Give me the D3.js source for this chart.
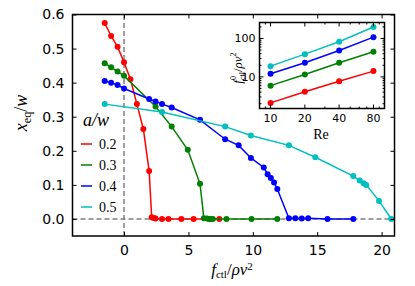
<html>
<head>
<script src="https://d3js.org/d3.v7.min.js"></script>
<style>
  body { margin: 0; background: #fff; }
  .tick text { font-family: "DejaVu Sans", sans-serif; }
  .math { font-family: "Liberation Serif", "DejaVu Serif", serif; }
</style>
</head>
<body>
<svg id="chart" width="415" height="286"></svg>
<script>
// main plot data
const seriesNames = ["0.2", "0.3", "0.4", "0.5"];
const seriesColors = ["#ff0000", "#008000", "#0000ff", "#00bfbf"];

const redX = [-1.5, -1, -0.5, 0, 0.5, 1, 1.5, 1.95, 2.15, 2.3, 2.45, 2.95, 3.45, 4.45, 5.4, 7.4];
const redY = [0.575, 0.537, 0.505, 0.46, 0.41, 0.337, 0.264, 0.141, 0.005, 0.003, 0.001, 0, 0, 0, 0, 0];
const greenX = [-1.5, -1, -0.5, 0, 2.45, 3.7, 4.95, 5.9, 6.2, 6.45, 6.6, 6.7, 6.9, 7.95, 9.9, 11.9];
const greenY = [0.457, 0.445, 0.433, 0.42, 0.33, 0.271, 0.203, 0.103, 0.002, 0.001, 0, 0, 0, 0, 0, 0];
const blueX = [-1.5, -1, -0.5, 0, 1.95, 2.45, 2.95, 3.7, 5.9, 7.85, 8.9, 9.85, 10.85, 11.15, 11.4, 11.65, 11.9, 12.8, 13.3, 13.8, 14.3, 15.8, 17.8];
const blueY = [0.405, 0.40, 0.393, 0.383, 0.352, 0.345, 0.337, 0.327, 0.291, 0.234, 0.216, 0.179, 0.151, 0.131, 0.12, 0.107, 0.088, 0.002, 0.002, 0.001, 0.002, 0, 0];
const cyanX = [-1.5, 2.95, 7.85, 9.85, 12.8, 14.85, 17.8, 18.3, 18.6, 18.8, 19.8, 20.75];
const cyanY = [0.337, 0.314, 0.271, 0.245, 0.216, 0.181, 0.126, 0.113, 0.105, 0.10, 0.053, 0];

const xTicks = [0, 5, 10, 15, 20];
const yTicks = [0.0, 0.1, 0.2, 0.3, 0.4, 0.5, 0.6];

// inset data
const reValues = [10, 20, 40, 80];
const redF0 = [2.1, 4.1, 7.7, 14.1];
const greenF0 = [5.9, 11.5, 23.2, 45];
const blueF0 = [12, 23.2, 48.6, 108];
const cyanF0 = [19, 39, 82, 199];
const insetXTicks = [10, 20, 40, 80];
const insetYTicks = [10, 100];

const svg = d3.select("#chart");
svg.append("rect").attr("width", 415).attr("height", 286).attr("fill", "#fff");

const x = d3.scaleLinear().domain([-4, 21]).range([72.5, 394.5]);
const y = d3.scaleLinear().domain([-0.05, 0.6]).range([236, 14.5]);

const series = [
  {xs: redX, ys: redY, f0: redF0},
  {xs: greenX, ys: greenY, f0: greenF0},
  {xs: blueX, ys: blueY, f0: blueF0},
  {xs: cyanX, ys: cyanY, f0: cyanF0}
];

// dashed zero lines
svg.append("line")
  .attr("x1", x(-4)).attr("x2", x(21)).attr("y1", y(0)).attr("y2", y(0))
  .attr("stroke", "#808080").attr("stroke-width", 1.5).attr("stroke-dasharray", "5,3");
svg.append("line")
  .attr("x1", x(0)).attr("x2", x(0)).attr("y1", y(-0.05)).attr("y2", y(0.6))
  .attr("stroke", "#808080").attr("stroke-width", 1.5).attr("stroke-dasharray", "5,3");

const mainG = svg.append("g");
const lineGen = d3.line().x(d => x(d[0])).y(d => y(d[1]));

series.forEach((s, i) => {
  const pts = s.xs.map((v, j) => [v, s.ys[j]]);
  mainG.append("path").datum(pts)
    .attr("fill", "none").attr("stroke", seriesColors[i]).attr("stroke-width", 1.5)
    .attr("d", lineGen);
  mainG.selectAll("circle.s" + i).data(pts).join("circle")
    .attr("class", "s" + i)
    .attr("cx", d => x(d[0])).attr("cy", d => y(d[1])).attr("r", 3)
    .attr("fill", seriesColors[i]);
});

// axes, ticks inside on all four sides
const bottomAxis = d3.axisBottom(x).tickValues(xTicks).tickSizeInner(-4).tickSizeOuter(0).tickPadding(9);
const leftAxis = d3.axisLeft(y).tickValues(yTicks).tickFormat(d3.format(".1f")).tickSizeInner(-4).tickSizeOuter(0).tickPadding(8);
const topAxis = d3.axisTop(x).tickValues(xTicks).tickSizeInner(-4).tickSizeOuter(0).tickFormat("");
const rightAxis = d3.axisRight(y).tickValues(yTicks).tickSizeInner(-4).tickSizeOuter(0).tickFormat("");

function styleAxis(g, size) {
  g.select(".domain").remove();
  g.selectAll(".tick line").attr("stroke", "#000").attr("stroke-width", 1);
  g.selectAll(".tick text").attr("font-size", size).attr("fill", "#000");
}

svg.append("g").attr("transform", "translate(0," + y(-0.05) + ")").call(bottomAxis).call(g => styleAxis(g, 14));
svg.append("g").attr("transform", "translate(" + x(-4) + ",0)").call(leftAxis).call(g => styleAxis(g, 14));
svg.append("g").attr("transform", "translate(0," + y(0.6) + ")").call(topAxis).call(g => styleAxis(g, 14));
svg.append("g").attr("transform", "translate(" + x(21) + ",0)").call(rightAxis).call(g => styleAxis(g, 14));

svg.append("rect")
  .attr("x", x(-4)).attr("y", y(0.6)).attr("width", x(21) - x(-4)).attr("height", y(-0.05) - y(0.6))
  .attr("fill", "none").attr("stroke", "#000").attr("stroke-width", 1.5);

// axis labels
const xl = svg.append("text").attr("class", "math").attr("x", 232).attr("y", 275)
  .attr("text-anchor", "middle").attr("font-size", 17);
xl.append("tspan").attr("font-style", "italic").text("f");
xl.append("tspan").attr("font-size", 11).attr("dy", 3).text("ctl");
xl.append("tspan").attr("dy", -3).text("/");
xl.append("tspan").attr("font-style", "italic").text("ρν");
xl.append("tspan").attr("font-size", 11).attr("dy", -5).text("2");

const yl = svg.append("text").attr("class", "math")
  .attr("transform", "translate(27,113) rotate(-90)")
  .attr("text-anchor", "middle").attr("font-size", 18);
yl.append("tspan").attr("font-style", "italic").text("x");
yl.append("tspan").attr("font-size", 12).attr("dy", 4).text("eq");
yl.append("tspan").attr("dy", -4).text("/");
yl.append("tspan").attr("font-style", "italic").text("w");

// legend
svg.append("text").attr("class", "math").attr("x", 83).attr("y", 126)
  .attr("font-size", 18).attr("font-style", "italic").text("a/w");
seriesNames.forEach((name, i) => {
  const ly = 144 + i * 21;
  svg.append("line").attr("x1", 81).attr("x2", 92).attr("y1", ly).attr("y2", ly)
    .attr("stroke", seriesColors[i]).attr("stroke-width", 1.5);
  svg.append("text").attr("class", "math").attr("x", 99).attr("y", ly + 4.5)
    .attr("font-size", 14).text(name);
});

// inset
const xi = d3.scaleLog().domain([8, 100]).range([259.5, 384.5]);
const yi = d3.scaleLog().domain([1.5, 260]).range([108.5, 22.5]);

svg.append("rect")
  .attr("x", xi(8)).attr("y", yi(260)).attr("width", xi(100) - xi(8)).attr("height", yi(1.5) - yi(260))
  .attr("fill", "#fff");

const insetG = svg.append("g");
const insetLine = d3.line().x(d => xi(d[0])).y(d => yi(d[1]));
series.forEach((s, i) => {
  const pts = reValues.map((r, j) => [r, s.f0[j]]);
  insetG.append("path").datum(pts)
    .attr("fill", "none").attr("stroke", seriesColors[i]).attr("stroke-width", 1.5)
    .attr("d", insetLine);
  insetG.selectAll("circle.i" + i).data(pts).join("circle")
    .attr("class", "i" + i)
    .attr("cx", d => xi(d[0])).attr("cy", d => yi(d[1])).attr("r", 3)
    .attr("fill", seriesColors[i]);
});

const xMinor = [8, 9, 30, 50, 60, 70, 90, 100];
const yMinor = [2, 3, 4, 5, 6, 7, 8, 9, 20, 30, 40, 50, 60, 70, 80, 90, 200];

function insetTicks(g) {
  // major
  insetXTicks.forEach(t => {
    g.append("line").attr("x1", xi(t)).attr("x2", xi(t)).attr("y1", yi(1.5)).attr("y2", yi(1.5) - 4).attr("stroke", "#000");
    g.append("line").attr("x1", xi(t)).attr("x2", xi(t)).attr("y1", yi(260)).attr("y2", yi(260) + 4).attr("stroke", "#000");
  });
  insetYTicks.forEach(t => {
    g.append("line").attr("x1", xi(8)).attr("x2", xi(8) + 4).attr("y1", yi(t)).attr("y2", yi(t)).attr("stroke", "#000");
    g.append("line").attr("x1", xi(100)).attr("x2", xi(100) - 4).attr("y1", yi(t)).attr("y2", yi(t)).attr("stroke", "#000");
  });
  // minor
  xMinor.forEach(t => {
    g.append("line").attr("x1", xi(t)).attr("x2", xi(t)).attr("y1", yi(1.5)).attr("y2", yi(1.5) - 2).attr("stroke", "#000");
    g.append("line").attr("x1", xi(t)).attr("x2", xi(t)).attr("y1", yi(260)).attr("y2", yi(260) + 2).attr("stroke", "#000");
  });
  yMinor.forEach(t => {
    g.append("line").attr("x1", xi(8)).attr("x2", xi(8) + 2).attr("y1", yi(t)).attr("y2", yi(t)).attr("stroke", "#000");
    g.append("line").attr("x1", xi(100)).attr("x2", xi(100) - 2).attr("y1", yi(t)).attr("y2", yi(t)).attr("stroke", "#000");
  });
}
insetTicks(svg.append("g"));

svg.selectAll("text.ixt").data(insetXTicks).join("text").attr("class", "ixt")
  .attr("x", d => xi(d)).attr("y", yi(1.5) + 13).attr("text-anchor", "middle")
  .attr("font-family", "DejaVu Sans, sans-serif").attr("font-size", 11).text(d => d);
svg.selectAll("text.iyt").data(insetYTicks).join("text").attr("class", "iyt")
  .attr("x", xi(8) - 4).attr("y", d => yi(d) + 4).attr("text-anchor", "end")
  .attr("font-family", "DejaVu Sans, sans-serif").attr("font-size", 11).text(d => d);

svg.append("rect")
  .attr("x", xi(8)).attr("y", yi(260)).attr("width", xi(100) - xi(8)).attr("height", yi(1.5) - yi(260))
  .attr("fill", "none").attr("stroke", "#000").attr("stroke-width", 1.5);

svg.append("text").attr("class", "math").attr("x", 321).attr("y", 139)
  .attr("text-anchor", "middle").attr("font-size", 14).text("Re");

const iyl = svg.append("text").attr("class", "math")
  .attr("transform", "translate(242,68) rotate(-90)")
  .attr("text-anchor", "middle").attr("font-size", 13);
iyl.append("tspan").attr("font-style", "italic").text("f");
iyl.append("tspan").attr("font-size", 8).attr("dy", -6).text("0");
iyl.append("tspan").attr("font-size", 8).attr("dx", -4).attr("dy", 9).text("ctl");
iyl.append("tspan").attr("dy", -3).text("/");
iyl.append("tspan").attr("font-style", "italic").text("ρν");
iyl.append("tspan").attr("font-size", 8).attr("dy", -6).text("2");
</script>
</body>
</html>
